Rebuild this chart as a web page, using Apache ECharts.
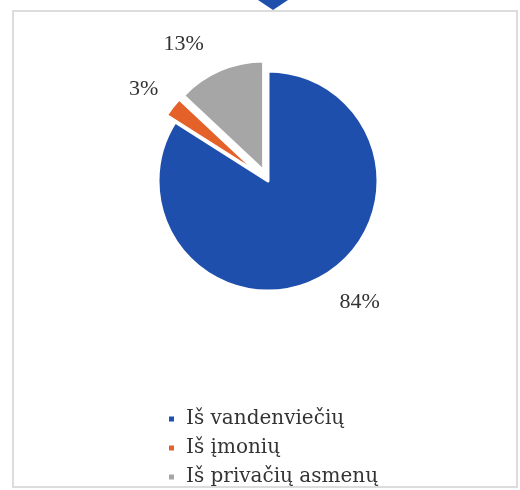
<!DOCTYPE html>
<html>
<head>
<meta charset="utf-8">
<script src="https://cdn.jsdelivr.net/npm/echarts@6/dist/echarts.min.js"></script>
<style>
  html, body { margin: 0; padding: 0; background: #fff; }
  #chart { width: 520px; height: 490px; }
</style>
</head>
<body>
<div id="chart"></div>
<script>
// duomenys
var categories = ["Iš vandenviečių", "Iš įmonių", "Iš privačių asmenų"];
var shares = [84, 3, 13];
var colors = ["#1f4fad", "#e4622a", "#a6a6a6"];
var exploded = [false, true, true];

var chart = echarts.init(document.getElementById("chart"));

var serif = "'Liberation Serif', 'DejaVu Serif', serif";

var option = {
    animation: false,
    backgroundColor: "#fff",
    graphic: [
        // ramelis
        {
            type: "rect",
            shape: {x: 13, y: 11, width: 504, height: 476},
            style: {fill: "none", stroke: "#dcdcdc", lineWidth: 2}
        },
        // mėlyna rodyklė viršuje
        {
            type: "polygon",
            shape: {points: [[258, 0], [288, 0], [273, 10]]},
            style: {fill: "#1f4fad"}
        }
    ],
    legend: {
        orient: "vertical",
        left: 167,
        top: 408,
        padding: 0,
        itemWidth: 7,
        itemHeight: 7,
        itemGap: 7,
        icon: "rect",
        textStyle: {
            fontFamily: "'DejaVu Serif', serif",
            fontSize: 20,
            color: "#333",
            lineHeight: 22,
            padding: [0, 0, 0, 6]
        },
        data: categories
    },
    series: [
        {
            type: "pie",
            center: [268, 181],
            radius: 110,
            startAngle: 90,
            selectedMode: "multiple",
            selectedOffset: 11,
            avoidLabelOverlap: false,
            itemStyle: {borderColor: "#fff", borderWidth: 3},
            label: {
                show: true,
                position: "outside",
                formatter: "{c}%",
                fontFamily: serif,
                fontSize: 22,
                color: "#333"
            },
            labelLine: {show: false, length: 28, length2: 0},
            emphasis: {disabled: true},
            data: categories.map(function (name, i) {
                var item = {
                    name: name,
                    value: shares[i],
                    selected: exploded[i],
                    itemStyle: {color: colors[i]}
                };
                if (i === 1) {
                    // 3% etiketė arčiau skritulio
                    item.label = {distanceToLabelLine: -8};
                }
                return item;
            })
        }
    ]
};

chart.setOption(option);
</script>
</body>
</html>
